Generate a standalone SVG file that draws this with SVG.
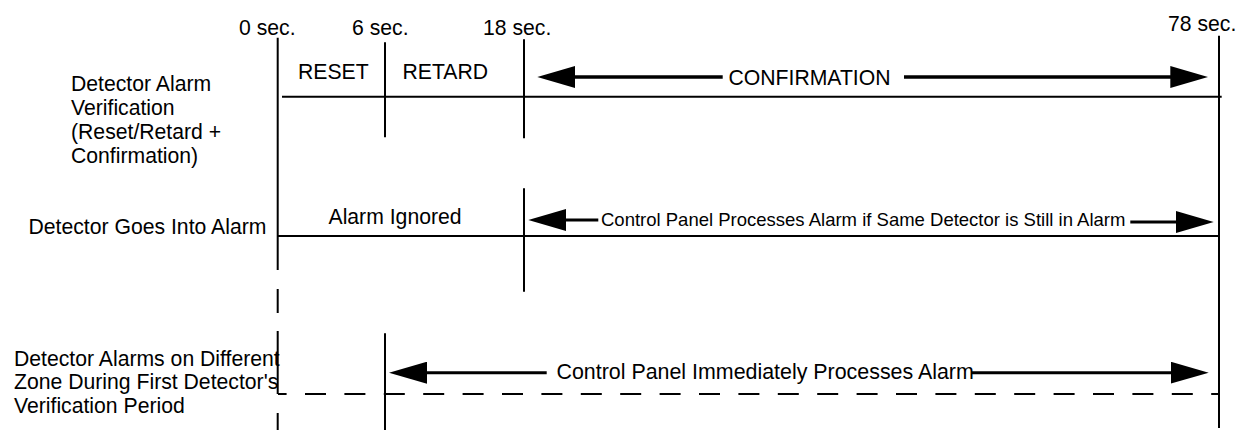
<svg xmlns="http://www.w3.org/2000/svg" width="1237" height="430" viewBox="0 0 1237 430">
<style>
text{font-family:"Liberation Sans",Arial,sans-serif;font-size:21.2px;fill:#000}
.small{font-size:18.5px}
.ln{stroke:#000;stroke-width:2;fill:none}
.dash{stroke:#000;stroke-width:2;fill:none;stroke-dasharray:21 18.4}
.arr{stroke:#000;stroke-width:3;fill:none;marker-end:url(#ah)}
.arr1{stroke-width:3.6}
</style>
<defs>
<marker id="ah" viewBox="0 0 38 22" refX="2" refY="11" markerWidth="38" markerHeight="22" markerUnits="userSpaceOnUse" orient="auto">
<path d="M0,0 L38,11 L0,22 z" fill="#000"/>
</marker>
</defs>
<rect width="1237" height="430" fill="#fff"/>

<g id="time-ticks">
<text x="239" y="34.5">0 sec.</text>
<text x="352" y="34.5">6 sec.</text>
<text x="483" y="35">18 sec.</text>
<text x="1168" y="30.5">78 sec.</text>
<path class="ln" d="M277.7,37.7 V270 M385,42.3 V137.3 M524,39.3 V138.3 M524,188.3 V291.7 M385,333.3 V430 M1219,35.7 V428"/>
<path class="ln" d="M277.7,289 V313 M277.7,331 V394 M277.7,413 V430"/>
</g>

<g id="row-verification">
<text x="71" y="90.7">Detector Alarm</text>
<text x="71" y="114.7">Verification</text>
<text x="71" y="138.5">(Reset/Retard +</text>
<text x="71" y="162.5">Confirmation)</text>
<path class="ln" d="M282,96.7 H1221.7"/>
<text x="298" y="78.5">RESET</text>
<text x="402.5" y="79">RETARD</text>
<text x="728.5" y="85">CONFIRMATION</text>
</g>

<g id="row-alarm">
<text x="28.5" y="234">Detector Goes Into Alarm</text>
<path class="ln" d="M277.7,236 H1219"/>
<text x="328.5" y="224">Alarm Ignored</text>
<text class="small" x="601" y="225.5">Control Panel Processes Alarm if Same Detector is Still in Alarm</text>
</g>

<g id="row-different-zone">
<text x="14" y="365.7">Detector Alarms on Different</text>
<text x="14" y="389.3">Zone During First Detector's</text>
<text x="14" y="413.3">Verification Period</text>
<path class="dash" d="M278,394 H1219" stroke-dashoffset="12.4"/>
<text x="556.5" y="379" style="font-size:21.4px">Control Panel Immediately Processes Alarm</text>
</g>

<g id="connectors">
<line class="arr arr1" x1="722.7" y1="77" x2="573.3" y2="77"/>
<line class="arr arr1" x1="904" y1="77" x2="1172.3" y2="77"/>
<line class="arr" x1="598.3" y1="220" x2="564.3" y2="220"/>
<line class="arr" x1="1130.3" y1="222" x2="1177.7" y2="222"/>
<line class="arr" x1="546.7" y1="372.7" x2="425" y2="372.7"/>
<line class="arr" x1="971" y1="372.7" x2="1172.7" y2="372.7"/>
</g>
</svg>
